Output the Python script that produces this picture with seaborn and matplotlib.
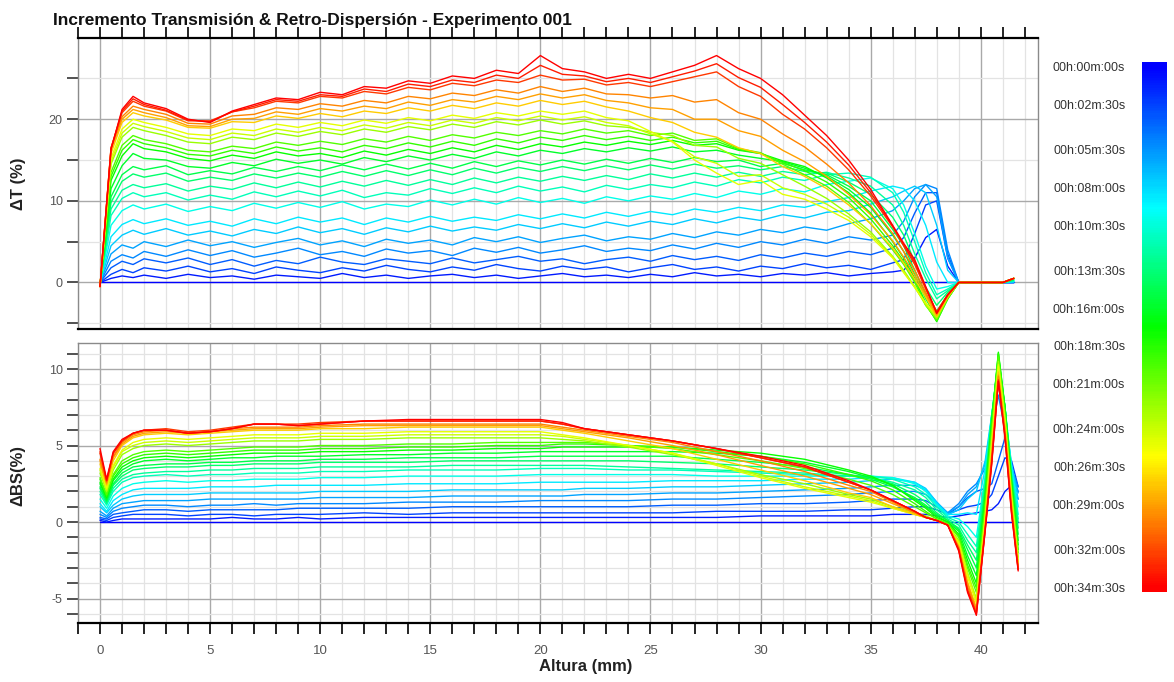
import numpy as np
import pandas as pd
import matplotlib
matplotlib.use("Agg")
import matplotlib.pyplot as plt
from matplotlib.colors import LinearSegmentedColormap, Normalize
from matplotlib.ticker import MultipleLocator
import seaborn as sns

sns.set_theme(style="white")
plt.rcParams["font.family"] = ["Liberation Sans", "DejaVu Sans"]
plt.rcParams["axes.unicode_minus"] = False

# ---------------------------------------------------------------- data
# sample heights (mm) for the transmission profiles
altura_t = [0, 0.5, 1, 1.5, 2,
            3, 4, 5, 6, 7, 8, 9, 10, 11, 12,
            13, 14, 15, 16, 17, 18, 19, 20, 21, 22,
            23, 24, 25, 26, 27, 28, 29, 30, 31, 32,
            33, 34, 35, 36, 36.5, 37, 37.5, 38, 38.5, 39,
            40, 41, 41.5]

# delta transmission (%) per scan
dt_00m00s = [0.0] * 48
dt_01m00s = [0.0, 0.5, 0.8, 0.6, 0.9,
             0.5, 1.0, 0.6, 0.8, 0.4, 0.9, 0.7, 0.5, 1.1, 0.6,
             0.9, 0.5, 0.8, 1.0, 0.6, 0.9, 0.5, 0.8, 1.1, 0.7,
             0.9, 0.6, 1.0, 0.7, 1.2, 0.8, 1.0, 0.7, 1.1, 0.9,
             1.2, 0.8, 1.1, 1.3, 1.5, 3.0, 5.5, 6.5, 2.0, 0.0,
             0.0, 0.0, 0.0]
dt_02m30s = [0.0, 1.0, 1.6, 1.2, 1.8,
             1.4, 2.0, 1.3, 1.7, 1.1, 1.9, 1.5, 1.2, 1.8, 1.4,
             2.1, 1.6, 1.3, 1.9, 1.5, 2.2, 1.7, 1.4, 2.0, 1.6,
             1.9, 1.3, 1.8, 2.2, 1.6, 1.9, 1.4, 2.0, 1.7, 2.3,
             1.8, 2.1, 1.6, 2.4, 2.8, 6.0, 9.5, 10.0, 3.0, 0.0,
             0.0, 0.0, 0.0]
dt_03m30s = [0.0, 1.8, 2.6, 2.2, 2.9,
             2.4, 3.0, 2.2, 2.8, 2.0, 2.7, 2.3, 3.1, 2.5, 2.2,
             2.9, 2.6, 2.3, 3.0, 2.4, 2.8, 3.2, 2.6, 2.9, 2.3,
             2.8, 3.1, 2.6, 3.3, 2.8, 3.2, 2.7, 3.4, 3.0, 3.6,
             3.2, 3.8, 3.4, 4.2, 5.5, 8.5, 11.0, 11.0, 3.5, 0.0,
             0.0, 0.0, 0.0]
dt_05m00s = [0.0, 2.6, 3.4, 3.0, 3.8,
             3.2, 4.0, 3.3, 3.9, 3.1, 3.6, 4.2, 3.4, 3.8, 3.2,
             4.1, 3.6, 3.9, 3.3, 4.2, 3.7, 4.3, 3.6, 4.0, 4.5,
             3.8, 4.2, 3.9, 4.6, 4.1, 4.8, 4.3, 5.0, 4.6, 5.3,
             4.8, 5.6, 5.2, 5.8, 7.5, 10.5, 12.0, 11.5, 4.0, 0.0,
             0.0, 0.0, 0.0]
dt_06m00s = [0.0, 3.5, 4.6, 4.2, 5.0,
             4.4, 5.2, 4.5, 5.0, 4.3, 4.9, 5.4, 4.6, 5.1, 4.4,
             5.3, 4.8, 5.2, 4.6, 5.5, 5.0, 5.6, 4.9, 5.4, 5.8,
             5.1, 5.6, 5.3, 6.0, 5.5, 6.2, 5.8, 6.5, 6.1, 6.8,
             6.4, 7.2, 7.8, 8.8, 10.0, 11.5, 12.0, 10.5, 3.0, 0.0,
             0.0, 0.0, 0.0]
dt_07m30s = [0.0, 4.5, 5.8, 6.4, 5.9,
             6.6, 5.8, 6.3, 5.7, 6.5, 6.0, 6.8, 6.1, 6.6, 5.9,
             6.7, 6.2, 6.9, 6.3, 6.8, 6.4, 7.1, 6.6, 7.2, 6.7,
             7.4, 6.9, 7.5, 7.1, 7.8, 7.3, 8.0, 7.6, 8.3, 7.9,
             8.6, 8.8, 9.6, 10.5, 11.2, 11.8, 11.0, 7.0, 1.5, 0.0,
             0.0, 0.0, 0.1]
dt_08m30s = [-0.1, 5.6, 7.1, 7.7, 7.2,
             7.8, 7.0, 7.5, 6.9, 7.8, 7.2, 8.0, 7.4, 7.9, 7.1,
             7.9, 7.4, 8.1, 7.5, 8.0, 7.6, 8.3, 7.8, 8.4, 7.9,
             8.6, 8.1, 8.7, 8.3, 9.0, 8.6, 9.2, 8.8, 9.5, 9.2,
             9.9, 10.4, 11.2, 11.8, 11.5, 10.0, 7.0, 2.5, 0.0, 0.0,
             0.0, 0.0, 0.1]
dt_10m00s = [-0.2, 7.0, 8.8, 9.5, 9.0,
             9.6, 8.7, 9.3, 8.8, 9.7, 9.1, 9.8, 9.2, 9.9, 9.0,
             9.6, 9.3, 10.1, 9.5, 10.2, 9.6, 10.4, 9.8, 10.3, 9.7,
             10.5, 10.0, 10.6, 10.2, 10.9, 10.4, 11.2, 10.8, 11.5, 11.1,
             12.0, 12.4, 12.8, 11.5, 9.5, 6.0, 2.0, -0.8, -0.5, 0.0,
             0.0, 0.0, 0.2]
dt_11m30s = [-0.2, 8.2, 10.3, 11.0, 10.5,
             11.0, 10.1, 10.7, 10.2, 11.1, 10.5, 11.2, 10.6, 11.3, 10.4,
             11.0, 10.7, 11.5, 10.9, 11.6, 11.0, 11.8, 11.2, 11.7, 11.1,
             11.9, 11.4, 12.0, 11.6, 12.3, 11.8, 12.6, 12.2, 12.9, 12.5,
             13.2, 13.4, 12.9, 11.0, 8.6, 5.0, 1.2, -1.5, -0.8, 0.0,
             0.0, 0.0, 0.2]
dt_12m30s = [-0.3, 9.0, 11.3, 12.0, 11.6,
             12.1, 11.2, 11.8, 11.4, 12.2, 11.6, 12.3, 11.7, 12.4, 11.8,
             12.5, 11.9, 12.6, 12.0, 12.8, 12.2, 12.9, 12.4, 13.0, 12.5,
             13.1, 12.6, 13.3, 12.8, 13.4, 12.9, 13.5, 13.0, 13.6, 13.2,
             13.5, 12.8, 11.8, 9.5, 7.0, 3.5, 0.5, -2.0, -1.0, 0.0,
             0.0, 0.0, 0.3]
dt_14m00s = [-0.3, 9.8, 12.4, 13.3, 12.9,
             13.4, 12.4, 12.9, 12.5, 13.3, 12.8, 13.4, 12.9, 13.6, 13.0,
             13.7, 13.1, 13.8, 13.2, 14.0, 13.4, 14.1, 13.6, 14.2, 13.7,
             14.3, 13.8, 14.4, 13.9, 14.5, 14.0, 14.3, 13.8, 14.2, 13.6,
             13.4, 12.3, 10.8, 8.0, 5.8, 2.5, -0.6, -2.8, -1.2, 0.0,
             0.0, 0.0, 0.3]
dt_15m00s = [-0.3, 10.5, 13.2, 14.2, 13.8,
             14.3, 13.2, 13.7, 13.3, 14.1, 13.6, 14.2, 13.7, 14.4, 13.8,
             14.5, 13.9, 14.6, 14.0, 14.8, 14.2, 14.9, 14.4, 15.0, 14.5,
             15.1, 14.6, 15.2, 14.7, 15.3, 14.8, 15.0, 14.2, 14.6, 13.8,
             13.2, 11.8, 10.0, 6.5, 4.5, 1.5, -1.5, -3.5, -1.5, 0.0,
             0.0, 0.0, 0.4]
dt_16m00s = [-0.4, 11.5, 14.3, 15.8, 15.2,
             15.0, 14.2, 14.0, 14.7, 14.3, 15.1, 14.6, 15.0, 14.5, 15.3,
             14.8, 15.5, 15.0, 15.7, 15.2, 16.0, 15.5, 16.2, 15.8, 16.4,
             16.0, 16.5, 16.1, 16.6, 16.0, 16.2, 15.6, 15.2, 14.8, 14.0,
             13.0, 11.4, 9.2, 5.8, 3.8, 1.0, -2.0, -4.3, -1.8, 0.0,
             0.0, 0.0, 0.5]
dt_17m30s = [-0.4, 12.5, 15.5, 17.0, 16.4,
             16.0, 15.2, 14.9, 15.6, 15.2, 16.0, 15.5, 15.8, 15.3, 16.1,
             15.6, 16.3, 15.8, 16.5, 16.0, 16.8, 16.3, 17.0, 16.6, 17.2,
             16.8, 17.3, 16.9, 17.4, 16.8, 17.0, 16.2, 15.8, 14.9, 14.2,
             12.8, 11.0, 8.5, 5.0, 3.0, 0.5, -2.5, -4.8, -2.0, 0.0,
             0.0, 0.0, 0.5]
dt_19m00s = [-0.4, 13.0, 16.2, 17.5, 17.0,
             16.5, 15.7, 15.5, 16.2, 15.8, 16.6, 16.1, 16.5, 16.0, 16.8,
             16.4, 17.1, 16.6, 17.3, 16.8, 17.6, 17.1, 17.8, 17.4, 18.0,
             17.5, 17.9, 17.4, 17.8, 17.1, 17.3, 16.3, 15.8, 14.7, 13.7,
             12.3, 10.4, 7.8, 4.5, 2.6, 0.2, -2.7, -4.7, -2.0, 0.0,
             0.0, 0.0, 0.5]
dt_20m00s = [-0.4, 13.5, 16.8, 18.0, 17.5,
             17.0, 16.2, 16.0, 16.7, 16.4, 17.2, 16.8, 17.3, 16.9, 17.6,
             17.2, 17.9, 17.4, 18.1, 17.7, 18.4, 18.0, 18.6, 18.2, 18.8,
             18.3, 18.6, 18.0, 18.3, 17.4, 17.6, 16.4, 15.9, 14.5, 13.2,
             11.8, 9.8, 7.2, 4.0, 2.2, 0.0, -2.8, -4.6, -2.0, 0.0,
             0.0, 0.0, 0.5]
dt_22m30s = [-0.5, 14.5, 17.8, 19.0, 18.6,
             18.0, 17.2, 17.0, 17.8, 17.5, 18.3, 17.9, 18.5, 18.1, 18.8,
             18.4, 19.1, 18.7, 19.4, 19.0, 19.7, 19.3, 19.9, 19.4, 19.8,
             19.2, 19.0, 18.4, 18.0, 16.8, 16.6, 15.2, 14.6, 13.2, 11.8,
             10.3, 8.4, 6.2, 3.2, 1.5, -0.5, -2.8, -4.4, -1.8, 0.0,
             0.0, 0.0, 0.5]
dt_24m00s = [-0.5, 14.8, 18.3, 19.5, 19.1,
             18.5, 17.7, 17.5, 18.3, 18.0, 18.8, 18.4, 19.0, 18.6, 19.3,
             18.9, 19.6, 19.2, 19.9, 19.5, 20.2, 19.8, 20.4, 19.9, 20.3,
             19.6, 19.2, 18.2, 17.3, 15.4, 14.6, 13.0, 13.2, 11.6, 10.8,
             9.6, 8.0, 5.9, 3.1, 1.3, -0.6, -2.6, -4.2, -1.7, 0.0,
             0.0, 0.0, 0.5]
dt_25m00s = [-0.5, 15.2, 18.8, 20.0, 19.6,
             19.0, 18.2, 18.0, 18.8, 18.6, 19.4, 19.0, 19.6, 19.2, 19.9,
             19.5, 20.2, 19.8, 20.5, 20.1, 20.8, 20.4, 21.0, 20.6, 21.0,
             20.2, 19.8, 18.5, 17.2, 15.0, 13.4, 12.0, 12.5, 10.8, 10.2,
             9.0, 7.6, 5.6, 3.0, 1.2, -0.6, -2.5, -4.0, -1.6, 0.0,
             0.0, 0.0, 0.5]
dt_27m30s = [-0.5, 15.8, 19.6, 20.8, 20.4,
             19.9, 19.0, 18.9, 19.7, 19.6, 20.4, 20.1, 20.7, 20.3, 21.0,
             20.7, 21.4, 21.0, 21.7, 21.3, 22.0, 21.6, 22.3, 21.8, 22.2,
             21.5, 21.0, 20.2, 19.6, 18.4, 17.8, 16.5, 15.8, 14.2, 13.0,
             11.5, 9.5, 7.2, 4.2, 2.4, 0.4, -1.8, -4.2, -1.8, 0.0,
             0.0, 0.0, 0.5]
dt_29m00s = [-0.5, 16.2, 20.0, 21.2, 20.8,
             20.2, 19.2, 19.1, 20.0, 20.1, 20.9, 20.6, 21.3, 21.0, 21.6,
             21.3, 22.1, 21.7, 22.4, 22.1, 22.8, 22.4, 23.1, 22.6, 23.0,
             22.3, 22.0, 21.4, 21.2, 20.0, 20.0, 18.6, 17.9, 16.2, 14.8,
             13.0, 10.8, 8.3, 5.1, 3.1, 0.9, -1.5, -4.0, -1.7, 0.0,
             0.0, 0.0, 0.5]
dt_30m00s = [-0.5, 16.5, 20.3, 21.6, 21.2,
             20.6, 19.5, 19.4, 20.4, 20.6, 21.4, 21.2, 21.9, 21.6, 22.3,
             22.0, 22.8, 22.5, 23.2, 22.9, 23.6, 23.2, 24.0, 23.4, 23.8,
             23.1, 23.0, 22.6, 22.9, 22.1, 22.4, 20.8, 20.0, 18.2, 16.6,
             14.5, 12.2, 9.4, 6.0, 3.8, 1.5, -1.2, -3.8, -1.6, 0.0,
             0.0, 0.0, 0.5]
dt_32m30s = [-0.5, 16.5, 20.8, 22.2, 21.6,
             21.0, 19.8, 19.8, 20.9, 21.4, 22.2, 22.0, 22.8, 22.6, 23.4,
             23.1, 23.9, 23.6, 24.4, 24.1, 24.8, 24.5, 25.4, 24.8, 24.9,
             24.2, 24.5, 24.0, 24.6, 25.2, 25.8, 24.0, 22.8, 20.6, 18.8,
             16.5, 13.8, 10.6, 6.8, 4.5, 2.2, -0.8, -3.6, -1.5, 0.0,
             0.0, 0.0, 0.5]
dt_33m30s = [-0.5, 16.4, 21.0, 22.5, 21.8,
             21.1, 19.9, 19.7, 20.9, 21.6, 22.4, 22.2, 23.0, 22.8, 23.7,
             23.4, 24.3, 24.0, 24.8, 24.5, 25.4, 25.0, 26.6, 25.5, 25.3,
             24.6, 25.0, 24.5, 25.2, 25.9, 26.8, 25.1, 23.9, 21.8, 19.6,
             17.2, 14.4, 11.0, 6.9, 4.6, 2.5, -0.6, -3.7, -1.5, 0.0,
             0.0, 0.0, 0.5]
dt_34m30s = [-0.5, 16.3, 21.2, 22.8, 22.0,
             21.3, 20.0, 19.6, 21.0, 21.8, 22.6, 22.4, 23.3, 23.0, 24.0,
             23.8, 24.7, 24.4, 25.3, 25.0, 26.0, 25.6, 27.8, 26.2, 25.8,
             25.0, 25.5, 25.0, 25.8, 26.6, 27.8, 26.2, 25.0, 23.0, 20.5,
             18.0, 15.0, 11.4, 7.0, 4.8, 2.8, -0.5, -3.8, -1.5, 0.0,
             0.0, 0.0, 0.5]

# sample heights (mm) for the backscattering profiles
altura_bs = [0, 0.3, 0.6, 1, 1.5, 2,
             3, 4, 5, 6, 7, 8, 9, 10,
             12, 14, 16, 18, 20, 21, 22,
             24, 26, 28, 30, 32, 34,
             35, 36, 37, 37.5, 38, 38.5, 39,
             39.4, 39.8, 40.2, 40.5, 40.8, 41.1, 41.4, 41.7]

# delta backscattering (%) per scan
dbs_00m00s = [0.0] * 42
dbs_01m00s = [0.1, 0.0, 0.1, 0.2, 0.2, 0.2,
              0.2, 0.2, 0.2, 0.3, 0.2, 0.2, 0.3, 0.2,
              0.3, 0.3, 0.3, 0.3, 0.3, 0.3, 0.3,
              0.3, 0.3, 0.3, 0.4, 0.4, 0.4,
              0.4, 0.5, 0.5, 0.5, 0.4, 0.3, 0.4,
              0.5, 0.6, 0.7, 0.8, 1.2, 2.0, 2.4, 1.5]
dbs_02m30s = [0.2, 0.1, 0.3, 0.4, 0.5, 0.5,
              0.5, 0.4, 0.5, 0.5, 0.4, 0.5, 0.5, 0.5,
              0.6, 0.5, 0.6, 0.6, 0.6, 0.6, 0.6,
              0.6, 0.6, 0.7, 0.7, 0.7, 0.8,
              0.8, 0.9, 1.0, 1.0, 0.8, 0.5, 0.8,
              1.0, 1.1, 1.3, 1.8, 3.0, 4.2, 4.0, 2.3]
dbs_03m30s = [0.3, 0.2, 0.5, 0.6, 0.7, 0.8,
              0.8, 0.7, 0.8, 0.8, 0.8, 0.8, 0.9, 0.9,
              0.9, 0.9, 1.0, 1.0, 1.0, 1.0, 1.0,
              1.0, 1.1, 1.1, 1.2, 1.2, 1.3,
              1.4, 1.5, 1.5, 1.4, 1.0, 0.5, 1.0,
              1.6, 2.0, 2.2, 2.5, 4.0, 5.5, 3.2, 2.0]
dbs_05m00s = [0.5, 0.3, 0.7, 0.9, 1.0, 1.1,
              1.1, 1.0, 1.1, 1.1, 1.2, 1.1, 1.2, 1.2,
              1.2, 1.3, 1.3, 1.3, 1.4, 1.4, 1.4,
              1.4, 1.5, 1.5, 1.6, 1.7, 1.8,
              1.9, 2.0, 2.0, 1.8, 1.2, 0.6, 1.2,
              2.0, 2.5, 3.5, 6.0, 8.3, 6.0, 3.5, 2.3]
dbs_06m00s = [0.7, 0.4, 0.9, 1.2, 1.3, 1.4,
              1.4, 1.4, 1.5, 1.5, 1.5, 1.5, 1.5, 1.6,
              1.6, 1.6, 1.7, 1.7, 1.7, 1.7, 1.8,
              1.8, 1.9, 1.9, 2.0, 2.1, 2.2,
              2.3, 2.4, 2.4, 2.1, 1.3, 0.6, 1.0,
              1.8, 2.3, 3.8, 6.5, 9.0, 6.5, 3.6, 1.9]
dbs_07m30s = [1.0, 0.6, 1.1, 1.5, 1.7, 1.8,
              1.8, 1.8, 1.9, 1.9, 1.9, 1.9, 1.9, 2.0,
              2.0, 2.0, 2.1, 2.1, 2.1, 2.1, 2.2,
              2.2, 2.3, 2.3, 2.4, 2.5, 2.6,
              2.7, 2.8, 2.6, 2.2, 1.3, 0.5, 0.8,
              1.5, 2.0, 4.0, 7.0, 9.5, 7.0, 3.8, 1.5]
dbs_08m30s = [1.2, 0.7, 1.4, 1.8, 2.1, 2.2,
              2.2, 2.2, 2.3, 2.3, 2.3, 2.4, 2.4, 2.4,
              2.4, 2.5, 2.5, 2.5, 2.6, 2.6, 2.6,
              2.6, 2.7, 2.7, 2.7, 2.8, 2.8,
              2.9, 2.9, 2.6, 2.1, 1.2, 0.5, 0.5,
              0.6, 0.5, 3.5, 7.0, 9.8, 7.2, 3.6, 1.0]
dbs_10m00s = [1.5, 0.9, 1.7, 2.2, 2.5, 2.6,
              2.7, 2.6, 2.7, 2.7, 2.8, 2.8, 2.8, 2.9,
              2.9, 3.0, 3.0, 3.0, 3.1, 3.1, 3.1,
              3.1, 3.1, 3.0, 3.0, 3.0, 3.0,
              3.0, 2.9, 2.5, 2.0, 1.1, 0.4, 0.2,
              -0.3, -1.0, 3.0, 7.0, 10.0, 7.5, 3.5, 0.5]
dbs_11m30s = [1.8, 1.1, 2.0, 2.6, 2.9, 3.0,
              3.1, 3.0, 3.1, 3.1, 3.2, 3.2, 3.2, 3.3,
              3.3, 3.4, 3.4, 3.4, 3.5, 3.5, 3.5,
              3.4, 3.4, 3.3, 3.2, 3.1, 3.0,
              3.0, 2.8, 2.3, 1.8, 1.0, 0.3, 0.0,
              -0.8, -1.6, 2.8, 7.0, 10.3, 7.5, 3.2, 0.2]
dbs_12m30s = [2.0, 1.2, 2.2, 2.8, 3.1, 3.2,
              3.3, 3.3, 3.4, 3.4, 3.5, 3.5, 3.5, 3.6,
              3.6, 3.6, 3.7, 3.7, 3.7, 3.7, 3.7,
              3.6, 3.5, 3.4, 3.3, 3.2, 3.0,
              2.9, 2.6, 2.1, 1.6, 0.8, 0.2, -0.2,
              -1.2, -2.0, 2.5, 7.0, 10.5, 7.5, 3.0, 0.0]
dbs_14m00s = [2.2, 1.3, 2.4, 3.0, 3.4, 3.5,
              3.6, 3.6, 3.7, 3.7, 3.8, 3.8, 3.8, 3.9,
              3.9, 3.9, 4.0, 4.0, 4.0, 4.0, 4.0,
              4.0, 3.9, 3.8, 3.6, 3.4, 3.1,
              2.9, 2.5, 1.8, 1.3, 0.6, 0.1, -0.4,
              -1.5, -2.5, 2.2, 6.9, 10.6, 7.5, 2.9, -0.4]
dbs_15m00s = [2.3, 1.4, 2.5, 3.2, 3.6, 3.7,
              3.8, 3.8, 3.9, 3.9, 4.0, 4.0, 4.0, 4.1,
              4.1, 4.2, 4.2, 4.2, 4.3, 4.3, 4.3,
              4.3, 4.3, 4.1, 3.9, 3.6, 3.1,
              2.8, 2.3, 1.6, 1.1, 0.5, 0.1, -0.5,
              -1.8, -3.0, 2.0, 6.8, 10.8, 7.5, 2.8, -0.8]
dbs_16m00s = [2.5, 1.5, 2.7, 3.4, 3.8, 4.0,
              4.1, 4.0, 4.1, 4.2, 4.2, 4.3, 4.3, 4.3,
              4.4, 4.4, 4.5, 4.5, 4.6, 4.6, 4.6,
              4.6, 4.6, 4.5, 4.3, 3.9, 3.3,
              2.9, 2.4, 1.5, 1.0, 0.4, 0.0, -0.6,
              -2.2, -3.5, 1.8, 6.6, 11.0, 7.5, 2.6, -1.2]
dbs_17m30s = [2.6, 1.6, 2.8, 3.6, 4.0, 4.2,
              4.3, 4.2, 4.3, 4.4, 4.5, 4.5, 4.5, 4.6,
              4.6, 4.7, 4.7, 4.8, 4.8, 4.9, 4.9,
              4.9, 4.9, 4.7, 4.5, 4.1, 3.4,
              3.0, 2.4, 1.4, 0.9, 0.3, 0.0, -0.8,
              -2.5, -4.0, 1.5, 6.5, 11.1, 7.5, 2.5, -1.5]
dbs_19m00s = [2.8, 1.7, 3.0, 3.8, 4.2, 4.4,
              4.5, 4.4, 4.5, 4.6, 4.7, 4.7, 4.7, 4.8,
              4.8, 4.9, 4.9, 5.0, 5.0, 5.1, 5.1,
              5.0, 4.9, 4.6, 4.3, 3.8, 3.1,
              2.7, 2.1, 1.2, 0.7, 0.2, -0.1, -0.9,
              -2.8, -4.3, 1.2, 6.2, 11.0, 7.2, 2.2, -1.8]
dbs_20m00s = [2.9, 1.8, 3.1, 4.0, 4.4, 4.6,
              4.7, 4.6, 4.7, 4.8, 4.9, 4.9, 4.9, 5.0,
              5.0, 5.1, 5.1, 5.2, 5.2, 5.2, 5.2,
              5.0, 4.8, 4.4, 4.0, 3.5, 2.8,
              2.4, 1.8, 1.0, 0.6, 0.2, -0.1, -1.0,
              -3.0, -4.6, 1.0, 6.0, 10.8, 7.0, 2.0, -2.0]
dbs_22m30s = [3.2, 2.0, 3.4, 4.4, 4.8, 5.0,
              5.1, 5.0, 5.1, 5.2, 5.3, 5.3, 5.3, 5.4,
              5.4, 5.5, 5.5, 5.5, 5.5, 5.4, 5.3,
              4.9, 4.4, 3.8, 3.1, 2.5, 1.8,
              1.5, 1.0, 0.6, 0.4, 0.1, -0.2, -1.2,
              -3.3, -5.0, 0.5, 5.5, 10.5, 6.8, 1.8, -2.3]
dbs_24m00s = [3.4, 2.1, 3.6, 4.6, 5.0, 5.2,
              5.3, 5.2, 5.3, 5.4, 5.5, 5.5, 5.5, 5.6,
              5.6, 5.7, 5.7, 5.7, 5.7, 5.6, 5.4,
              5.0, 4.5, 3.8, 3.0, 2.3, 1.7,
              1.4, 0.9, 0.5, 0.3, 0.1, -0.2, -1.3,
              -3.4, -5.1, 0.3, 5.2, 10.3, 6.6, 1.6, -2.5]
dbs_25m00s = [3.5, 2.2, 3.7, 4.7, 5.2, 5.4,
              5.5, 5.4, 5.5, 5.6, 5.7, 5.7, 5.7, 5.8,
              5.8, 5.9, 5.9, 5.9, 5.9, 5.7, 5.5,
              5.0, 4.5, 3.7, 2.9, 2.2, 1.6,
              1.3, 0.9, 0.5, 0.3, 0.1, -0.2, -1.4,
              -3.6, -5.3, 0.2, 5.0, 10.2, 6.5, 1.5, -2.6]
dbs_27m30s = [3.8, 2.4, 4.0, 5.0, 5.5, 5.7,
              5.8, 5.7, 5.8, 5.9, 6.0, 6.0, 6.0, 6.1,
              6.1, 6.2, 6.2, 6.2, 6.2, 6.0, 5.8,
              5.3, 4.8, 4.1, 3.4, 2.7, 1.9,
              1.6, 1.0, 0.5, 0.3, 0.1, -0.2, -1.6,
              -3.9, -5.6, -0.2, 4.6, 9.8, 6.2, 1.2, -2.8]
dbs_29m00s = [4.0, 2.5, 4.2, 5.1, 5.6, 5.8,
              5.9, 5.8, 5.9, 6.0, 6.1, 6.1, 6.1, 6.2,
              6.3, 6.3, 6.3, 6.3, 6.3, 6.1, 5.9,
              5.5, 5.0, 4.4, 3.7, 3.0, 2.2,
              1.8, 1.2, 0.6, 0.3, 0.1, -0.2, -1.6,
              -4.0, -5.7, -0.3, 4.4, 9.6, 6.0, 1.0, -2.9]
dbs_30m00s = [4.1, 2.6, 4.3, 5.2, 5.7, 5.9,
              6.0, 5.8, 5.9, 6.1, 6.2, 6.2, 6.2, 6.3,
              6.4, 6.4, 6.4, 6.4, 6.4, 6.2, 6.0,
              5.6, 5.2, 4.6, 4.0, 3.3, 2.4,
              2.0, 1.3, 0.6, 0.3, 0.1, -0.2, -1.7,
              -4.2, -5.8, -0.4, 4.2, 9.5, 5.9, 0.9, -3.0]
dbs_32m30s = [4.5, 2.7, 4.5, 5.3, 5.8, 6.0,
              6.1, 5.9, 6.0, 6.2, 6.4, 6.4, 6.4, 6.5,
              6.6, 6.6, 6.6, 6.6, 6.6, 6.4, 6.1,
              5.7, 5.3, 4.8, 4.2, 3.6, 2.6,
              2.1, 1.4, 0.7, 0.3, 0.1, -0.2, -1.8,
              -4.4, -6.0, -0.5, 4.0, 9.3, 5.7, 0.7, -3.1]
dbs_33m30s = [4.6, 2.7, 4.5, 5.3, 5.8, 6.0,
              6.0, 5.8, 5.9, 6.1, 6.4, 6.4, 6.3, 6.4,
              6.6, 6.6, 6.6, 6.6, 6.6, 6.4, 6.1,
              5.7, 5.3, 4.8, 4.2, 3.6, 2.6,
              2.1, 1.4, 0.7, 0.3, 0.1, -0.2, -1.8,
              -4.5, -6.0, -0.5, 3.9, 9.2, 5.6, 0.6, -3.1]
dbs_34m30s = [4.8, 2.8, 4.6, 5.4, 5.8, 6.0,
              6.0, 5.8, 5.9, 6.1, 6.4, 6.4, 6.3, 6.4,
              6.6, 6.7, 6.7, 6.7, 6.7, 6.5, 6.1,
              5.7, 5.3, 4.8, 4.3, 3.7, 2.7,
              2.1, 1.4, 0.7, 0.3, 0.1, -0.2, -1.9,
              -4.6, -6.1, -0.6, 3.8, 9.2, 5.5, 0.5, -3.2]

# scan times (min)
tiempos = [0, 1, 2.5, 3.5, 5, 6, 7.5, 8.5, 10, 11.5, 12.5, 14, 15, 16,
           17.5, 19, 20, 22.5, 24, 25, 27.5, 29, 30, 32.5, 33.5, 34.5]
perfiles_t = [dt_00m00s, dt_01m00s, dt_02m30s, dt_03m30s, dt_05m00s,
              dt_06m00s, dt_07m30s, dt_08m30s, dt_10m00s, dt_11m30s,
              dt_12m30s, dt_14m00s, dt_15m00s, dt_16m00s, dt_17m30s,
              dt_19m00s, dt_20m00s, dt_22m30s, dt_24m00s, dt_25m00s,
              dt_27m30s, dt_29m00s, dt_30m00s, dt_32m30s, dt_33m30s,
              dt_34m30s]
perfiles_bs = [dbs_00m00s, dbs_01m00s, dbs_02m30s, dbs_03m30s, dbs_05m00s,
               dbs_06m00s, dbs_07m30s, dbs_08m30s, dbs_10m00s, dbs_11m30s,
               dbs_12m30s, dbs_14m00s, dbs_15m00s, dbs_16m00s, dbs_17m30s,
               dbs_19m00s, dbs_20m00s, dbs_22m30s, dbs_24m00s, dbs_25m00s,
               dbs_27m30s, dbs_29m00s, dbs_30m00s, dbs_32m30s, dbs_33m30s,
               dbs_34m30s]

# colour-scale labels (time, text)
escala_tiempos = [0, 2.5, 5.5, 8, 10.5, 13.5, 16, 18.5, 21, 24, 26.5, 29, 32, 34.5]
escala_textos = ["00h:00m:00s", "00h:02m:30s", "00h:05m:30s", "00h:08m:00s",
                 "00h:10m:30s", "00h:13m:30s", "00h:16m:00s", "00h:18m:30s",
                 "00h:21m:00s", "00h:24m:00s", "00h:26m:30s", "00h:29m:00s",
                 "00h:32m:00s", "00h:34m:30s"]

# ---------------------------------------------------------------- tables
df_t = pd.concat([pd.DataFrame({"altura": altura_t, "valor": v, "tiempo": t})
                  for t, v in zip(tiempos, perfiles_t)], ignore_index=True)
df_bs = pd.concat([pd.DataFrame({"altura": altura_bs, "valor": v, "tiempo": t})
                   for t, v in zip(tiempos, perfiles_bs)], ignore_index=True)

arcoiris = LinearSegmentedColormap.from_list(
    "arcoiris", [(0.0, "#0000ff"), (0.27, "#00ffff"), (0.5, "#00ff00"),
                 (0.75, "#ffff00"), (1.0, "#ff0000")])
norma = Normalize(0, 34.5)

# ---------------------------------------------------------------- figure
W, H = 1174, 682
fig = plt.figure(figsize=(W / 100, H / 100), dpi=100)
fig.patch.set_facecolor("white")

ax1 = fig.add_axes([78 / W, 1 - 329 / H, 960 / W, 291 / H])
ax2 = fig.add_axes([78 / W, 1 - 623 / H, 960 / W, 280 / H])
cax = fig.add_axes([1142 / W, 1 - 592 / H, 25 / W, 530 / H])

for ax, df in ((ax1, df_t), (ax2, df_bs)):
    sns.lineplot(data=df, x="altura", y="valor", hue="tiempo", palette=arcoiris,
                 hue_norm=norma, estimator=None, sort=False, legend=False,
                 lw=1.0, ax=ax)
    ax.set_xlim(-1, 42.6)
    ax.set_xlabel("")
    ax.set_ylabel("")
    ax.set_facecolor("white")
    ax.set_axisbelow(True)
    ax.xaxis.set_major_locator(MultipleLocator(5))
    ax.xaxis.set_minor_locator(MultipleLocator(1))
    ax.grid(which="minor", color="#e3e3e3", lw=0.9)
    ax.grid(which="major", color="#a9a9a9", lw=1.0)
    for s in ("left", "right"):
        ax.spines[s].set_color("#8a8a8a")
        ax.spines[s].set_linewidth(1.0)
    ax.tick_params(axis="y", which="both", direction="out", length=8, width=1.2,
                   color="#333333", left=True, right=False, labelsize=9,
                   labelcolor="#555555", pad=3)

# transmission panel
ax1.set_ylim(-5.7, 29.95)
ax1.yaxis.set_major_locator(MultipleLocator(10))
ax1.yaxis.set_minor_locator(MultipleLocator(5))
ax1.xaxis.tick_top()
ax1.tick_params(axis="x", which="both", direction="out", length=8, width=1.2,
                color="black", top=True, bottom=False, labeltop=False,
                labelbottom=False)
ax1.spines["top"].set_color("black")
ax1.spines["top"].set_linewidth(1.6)
ax1.spines["bottom"].set_color("black")
ax1.spines["bottom"].set_linewidth(1.6)

# backscattering panel
ax2.set_ylim(-6.6, 11.7)
ax2.yaxis.set_major_locator(MultipleLocator(5))
ax2.yaxis.set_minor_locator(MultipleLocator(1))
ax2.tick_params(axis="x", which="both", direction="out", length=8, width=1.2,
                color="black", bottom=True, top=False, labelsize=9.5,
                labelcolor="#555555", pad=8)
ax2.spines["bottom"].set_color("black")
ax2.spines["bottom"].set_linewidth(1.6)
ax2.spines["top"].set_color("#8a8a8a")
ax2.spines["top"].set_linewidth(1.0)

# colour scale
gradiente = np.linspace(-0.3, 34.8, 300)[:, None]
cax.imshow(gradiente, aspect="auto", cmap=arcoiris, norm=norma,
           extent=[0, 1, 34.8, -0.3], origin="upper", interpolation="nearest")
cax.set_ylim(34.8, -0.3)
cax.set_xticks([])
cax.set_yticks(escala_tiempos)
cax.set_yticklabels(escala_textos)
cax.tick_params(axis="y", length=0, pad=12, labelsize=9, labelcolor="#333333")
for s in cax.spines.values():
    s.set_visible(False)

# texts
fig.text(53 / W, 1 - 20 / H,
         "Incremento Transmisión & Retro-Dispersión - Experimento 001",
         ha="left", va="center", fontsize=12.5, fontweight="bold", color="#111111")
fig.text(18 / W, 1 - 184 / H, "ΔT (%)", rotation=90, ha="center", va="center",
         fontsize=12, fontweight="bold", color="#222222")
fig.text(18 / W, 1 - 475 / H, "ΔBS(%)", rotation=90, ha="center", va="center",
         fontsize=12, fontweight="bold", color="#222222")
fig.text(586 / W, 1 - 667 / H, "Altura (mm)", ha="center", va="center",
         fontsize=12, fontweight="bold", color="#222222")

fig.savefig("out.png", dpi=100, facecolor="white")
